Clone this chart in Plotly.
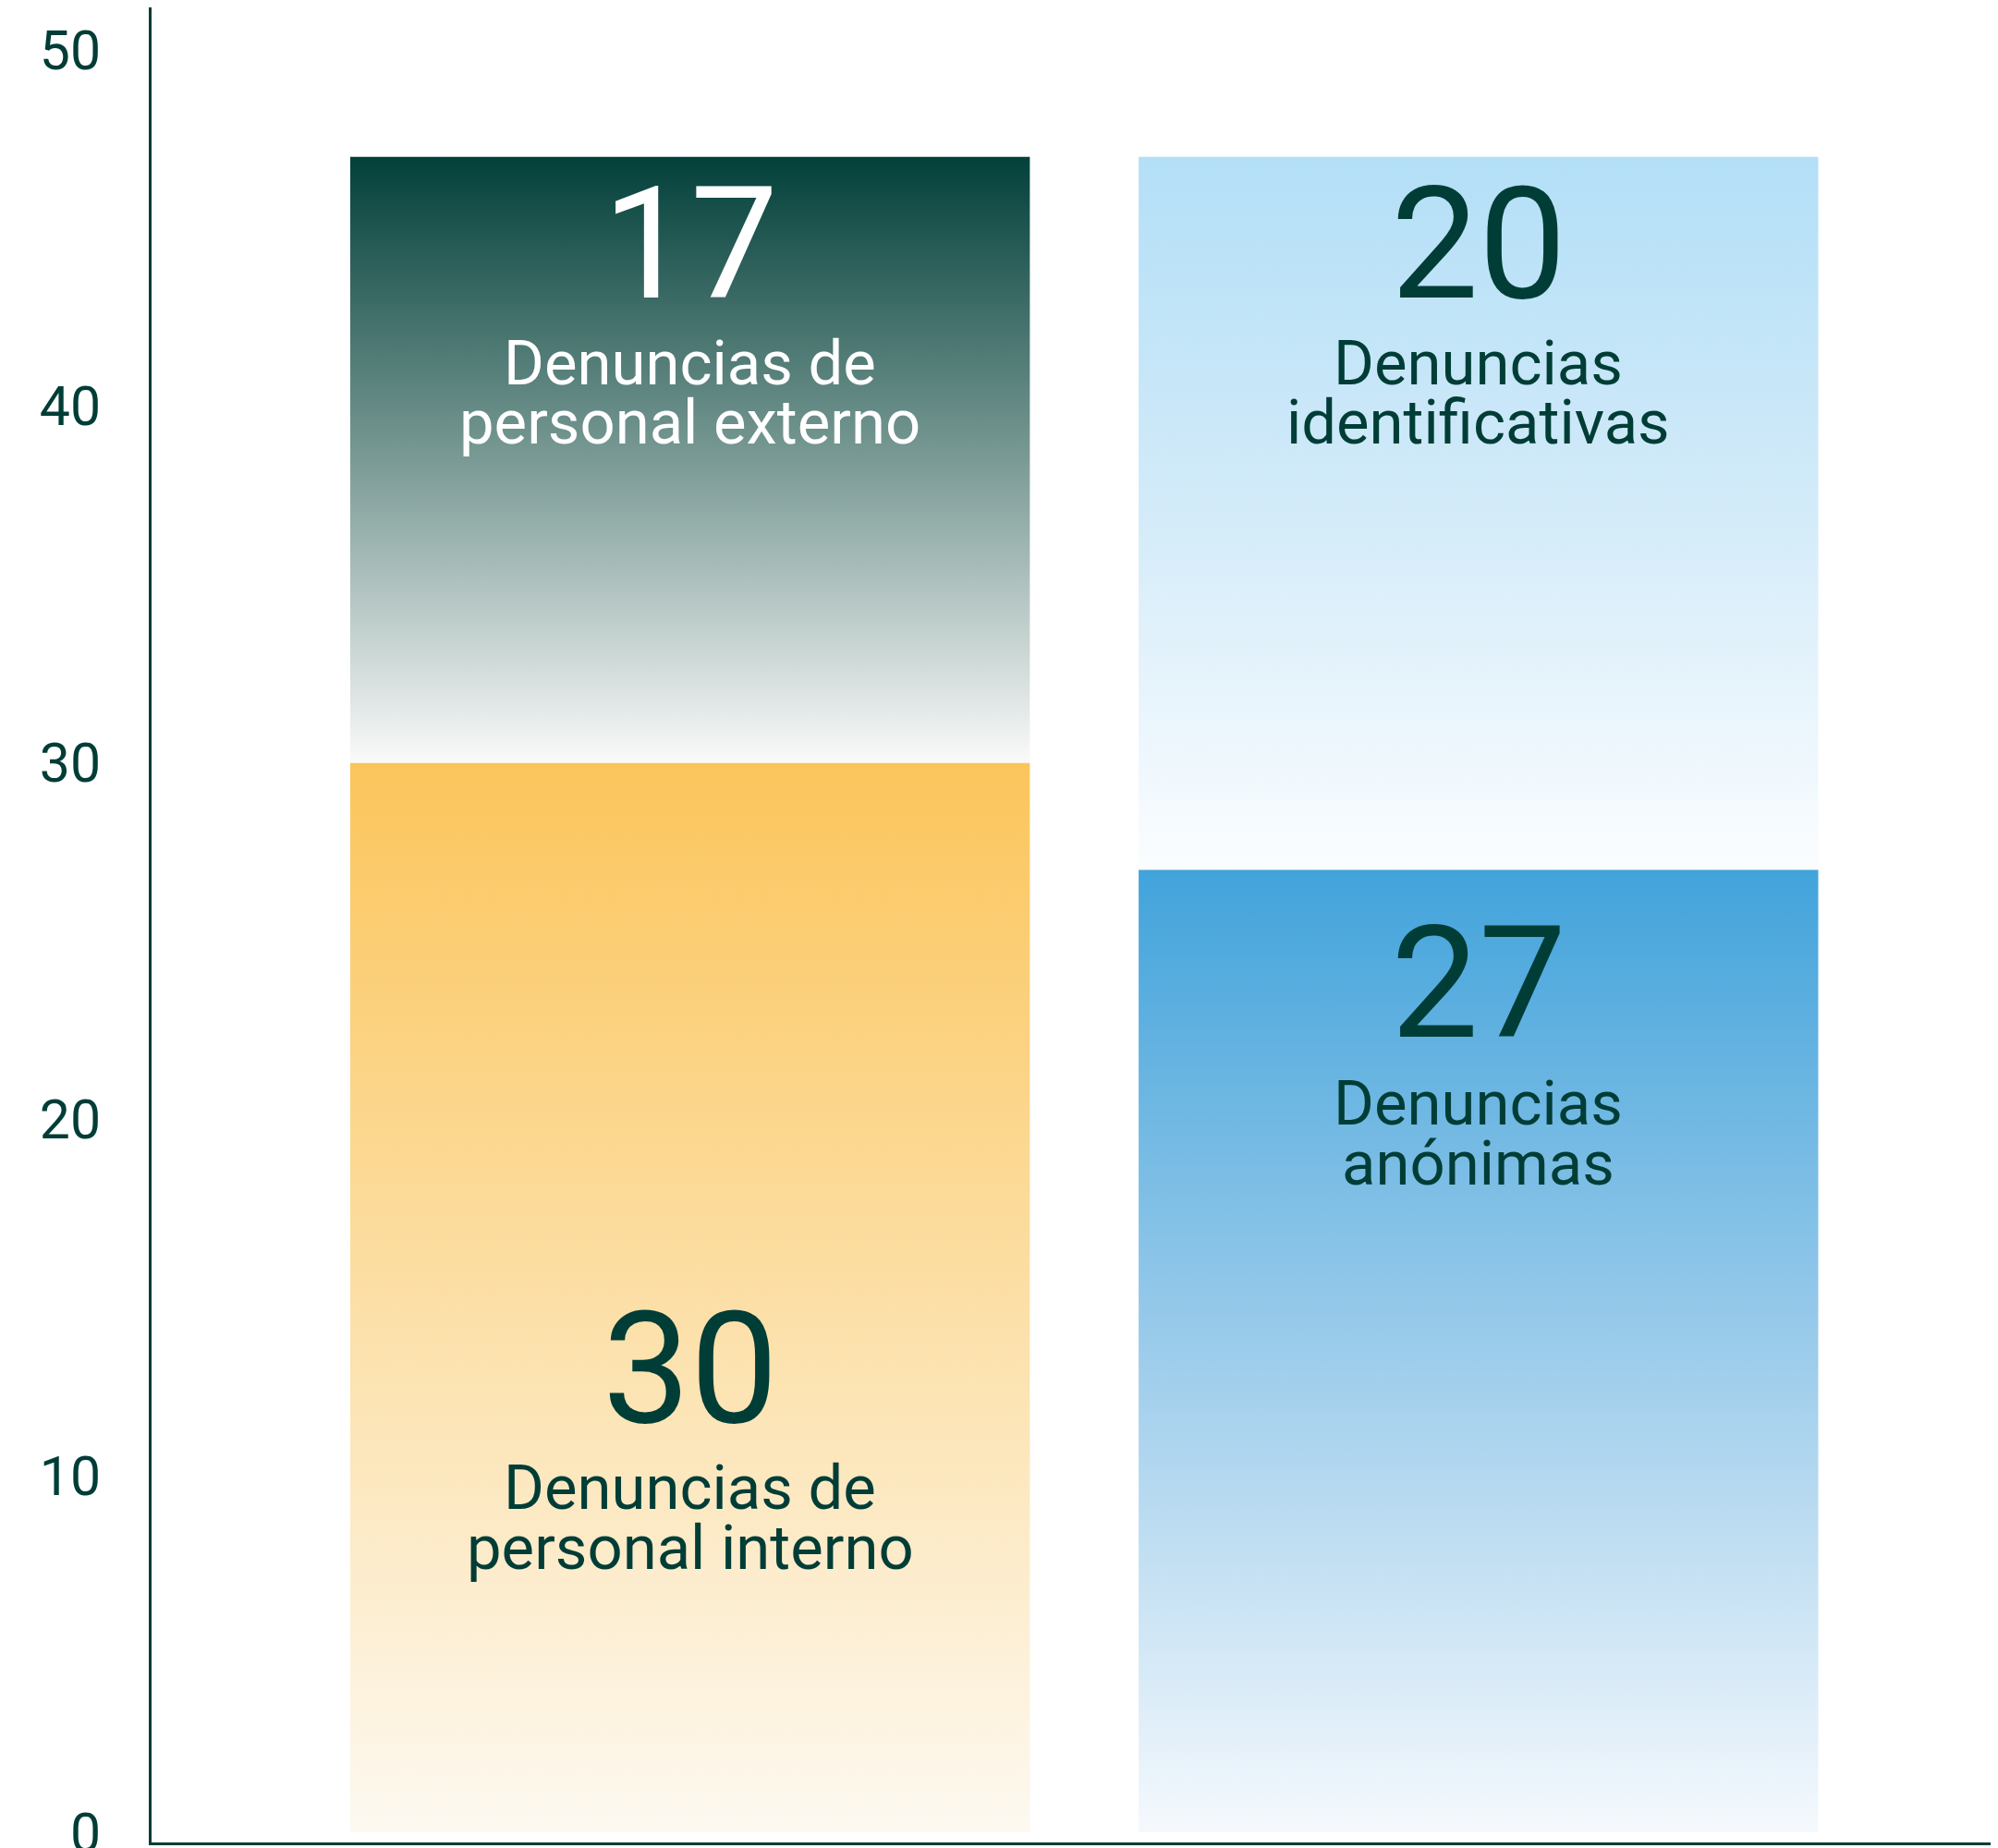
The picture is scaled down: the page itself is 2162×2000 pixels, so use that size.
import plotly.graph_objects as go

# ---- data ----
categories = ["Origen", "Tipo"]
bottom_values = [30, 27]
top_values = [17, 20]
bottom_numbers = ["30", "27"]
top_numbers = ["17", "20"]
bottom_label_lines = [["Denuncias de", "personal interno"], ["Denuncias", "anónimas"]]
top_label_lines = [["Denuncias de", "personal externo"], ["Denuncias", "identificativas"]]
y_ticks = [0, 10, 20, 30, 40, 50]

# ---- styles ----
DARK = "#003d36"
bottom_scales = [
    [[0, "#fdf9f1"], [0.5, "#fcdfa6"], [1, "#fbc55b"]],
    [[0, "#f5f9fd"], [0.5, "#9ccceb"], [1, "#42a3db"]],
]
top_scales = [
    [[0, "#fafafa"], [0.5, "#7a9a95"], [1, "#03403a"]],
    [[0, "#fbfdff"], [0.5, "#d3ebf9"], [1, "#b3dff7"]],
]
top_text_colors = ["white", DARK]
bottom_text_colors = [DARK, DARK]
BAR_W = 0.862
NUM_FONT = "Roboto, sans-serif"
LBL_FONT = "Roboto, sans-serif"

fig = go.Figure()


def add_block(i, base, value, scale):
    x0, x1 = i - BAR_W / 2, i + BAR_W / 2
    y0, y1 = base, base + value
    fig.add_trace(go.Scatter(
        x=[x0, x1, x1, x0, x0], y=[y0, y0, y1, y1, y0],
        mode="lines", fill="toself", line=dict(width=0),
        fillgradient=dict(type="vertical", colorscale=scale, start=y0, stop=y1),
        hoverinfo="skip", showlegend=False,
    ))


for i in range(len(categories)):
    add_block(i, 0, bottom_values[i], bottom_scales[i])
    add_block(i, bottom_values[i], top_values[i], top_scales[i])

# label positions (data units)
top_num_y = [44.55, 44.55]
top_line_y = [[41.2, 39.55], [41.2, 39.55]]
bot_num_y = [13.02, 23.81]
bot_line_y = [[9.66, 7.98], [20.45, 18.76]]

ann = []
for i in range(len(categories)):
    ann.append(dict(x=i, y=top_num_y[i], text=top_numbers[i], showarrow=False,
                    font=dict(family=NUM_FONT, size=169, color=top_text_colors[i]),
                    xanchor="center", yanchor="middle"))
    for t, yy in zip(top_label_lines[i], top_line_y[i]):
        ann.append(dict(x=i, y=yy, text=t, showarrow=False,
                        font=dict(family=LBL_FONT, size=67, color=top_text_colors[i]),
                        xanchor="center", yanchor="middle"))
    ann.append(dict(x=i, y=bot_num_y[i], text=bottom_numbers[i], showarrow=False,
                    font=dict(family=NUM_FONT, size=169, color=bottom_text_colors[i]),
                    xanchor="center", yanchor="middle"))
    for t, yy in zip(bottom_label_lines[i], bot_line_y[i]):
        ann.append(dict(x=i, y=yy, text=t, showarrow=False,
                        font=dict(family=LBL_FONT, size=67, color=bottom_text_colors[i]),
                        xanchor="center", yanchor="middle"))

fig.update_layout(
    width=2154, height=1992,
    margin=dict(l=156, r=0, t=0, b=6),
    paper_bgcolor="white", plot_bgcolor="white",
    showlegend=False, hovermode=False,
    annotations=ann,
    xaxis=dict(range=[-0.683, 1.659], showgrid=False, zeroline=False,
               showticklabels=False, ticks="", showline=True, automargin=False,
               linecolor=DARK, linewidth=3, fixedrange=True),
    yaxis=dict(range=[-0.285, 51.19], tickvals=y_ticks,
               ticktext=[str(v) for v in y_ticks], showgrid=False, zeroline=False,
               ticks="", showline=True, linecolor=DARK, linewidth=3, automargin=False,
               tickfont=dict(family=LBL_FONT, size=59, color=DARK),
               ticklabelstandoff=40, ticklabeloverflow="allow", fixedrange=True),
)

fig.write_html("out.html")
